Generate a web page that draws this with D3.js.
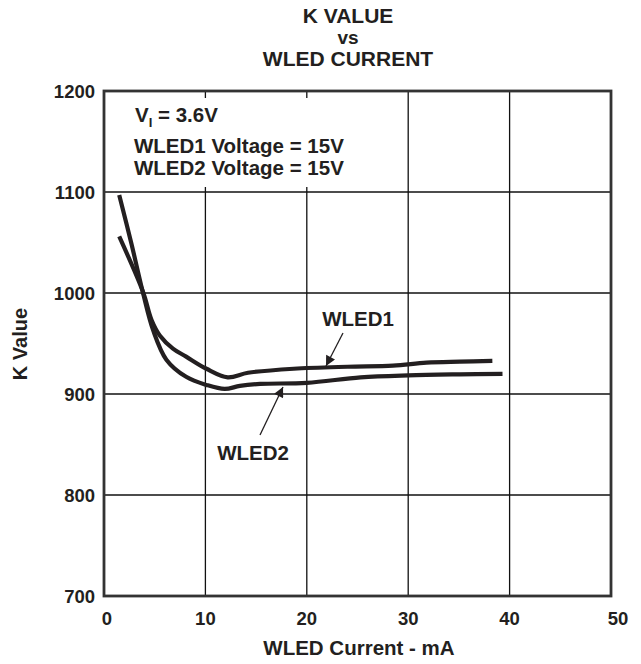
<!DOCTYPE html>
<head>
<meta charset="utf-8">
<script src="https://d3js.org/d3.v7.min.js"></script>
<style>
body { margin:0; background:#fff; }
text { font-family: "Liberation Sans", Arial, sans-serif; font-weight: bold; fill: #231f20; }
</style>
</head>
<body>
<script>
// values
var xTicks = [0, 10, 20, 30, 40, 50];
var yTicks = [700, 800, 900, 1000, 1100, 1200];
var titleLines = ["K VALUE", "vs", "WLED CURRENT"];

var wled1X = [1.5, 3.85, 4.7, 5.5, 6.8, 8.1, 10.1, 12.2, 14.2, 18.7, 24, 28.5, 31.8, 35.1, 38.3];
var wled1Y = [1056, 1001, 973, 958, 945, 937, 925, 916.5, 921, 925, 927, 928, 931, 932, 932.7];
var wled2X = [1.5, 2.7, 3.85, 4.85, 6.15, 8.1, 10.1, 11.9, 13.4, 15.4, 20, 25.3, 30, 35.1, 39.3];
var wled2Y = [1097, 1049, 1000, 963, 934, 917, 909, 905, 908, 910, 911, 916.5, 918.5, 919.5, 920];

var width = 641, height = 664;
var pl = 104, pr = 611, pt = 91, pb = 596;

var svg = d3.select("body").append("svg")
    .attr("width", width)
    .attr("height", height);

var x = d3.scaleLinear().domain([0, 50]).range([pl, pr]);
var y = d3.scaleLinear().domain([700, 1200]).range([pb, pt]);

svg.append("defs").append("marker")
    .attr("id", "head")
    .attr("viewBox", "0 0 10 10")
    .attr("refX", 10).attr("refY", 5)
    .attr("markerWidth", 13).attr("markerHeight", 10)
    .attr("markerUnits", "userSpaceOnUse")
    .attr("orient", "auto")
  .append("path")
    .attr("d", "M0,0L10,5L0,10Z")
    .attr("fill", "#231f20");

// grid
svg.append("g").selectAll("line")
    .data(yTicks.slice(1, -1))
    .enter().append("line")
    .attr("x1", pl).attr("x2", pr)
    .attr("y1", d => y(d)).attr("y2", d => y(d))
    .attr("stroke", "#111").attr("stroke-width", 1.3);

svg.append("g").selectAll("line")
    .data(xTicks.slice(1, -1))
    .enter().append("line")
    .attr("x1", d => x(d)).attr("x2", d => x(d))
    .attr("y1", d => d < 25 ? y(1105) : pt).attr("y2", pb)
    .attr("stroke", "#111").attr("stroke-width", 1.3);

// short ticks at top where the grid is cut for the text
svg.append("g").selectAll("line")
    .data([10, 20])
    .enter().append("line")
    .attr("x1", d => x(d)).attr("x2", d => x(d))
    .attr("y1", pt).attr("y2", pt + 7)
    .attr("stroke", "#111").attr("stroke-width", 1.3);

svg.append("rect")
    .attr("x", pl).attr("y", pt)
    .attr("width", pr - pl).attr("height", pb - pt)
    .attr("fill", "none")
    .attr("stroke", "#333").attr("stroke-width", 2.8);

// tick labels
svg.append("g").selectAll("text")
    .data(yTicks)
    .enter().append("text")
    .attr("x", pl - 9).attr("y", d => y(d) + 7)
    .attr("text-anchor", "end")
    .style("font-size", "18.5px")
    .text(d => d);

svg.append("g").selectAll("text")
    .data(xTicks)
    .enter().append("text")
    .attr("x", d => x(d) + (d === 0 ? 3 : d === 50 ? 7 : 0)).attr("y", pb + 29)
    .attr("text-anchor", "middle")
    .style("font-size", "18.5px")
    .text(d => d);

// titles
var titleY = [23, 44, 66];
svg.append("g").selectAll("text")
    .data(titleLines)
    .enter().append("text")
    .attr("x", 348)
    .attr("y", (d, i) => titleY[i])
    .attr("text-anchor", "middle")
    .style("font-size", (d, i) => i === 1 ? "19px" : "21px")
    .text(d => d);

svg.append("text")
    .attr("x", 359).attr("y", 655)
    .attr("text-anchor", "middle")
    .style("font-size", "20.5px")
    .text("WLED Current - mA");

svg.append("text")
    .attr("transform", "translate(27,344) rotate(-90)")
    .attr("text-anchor", "middle")
    .style("font-size", "20px")
    .text("K Value");

// conditions
var vi = svg.append("text").attr("x", 135).attr("y", 122).style("font-size", "20.5px");
vi.append("tspan").text("V");
vi.append("tspan").attr("dy", 5).style("font-size", "13px").text("I");
vi.append("tspan").attr("dy", -5).text(" = 3.6V");
svg.append("text").attr("x", 134).attr("y", 153).style("font-size", "20.5px").text("WLED1 Voltage = 15V");
svg.append("text").attr("x", 134).attr("y", 174.5).style("font-size", "20.5px").text("WLED2 Voltage = 15V");

// curves
var line = d3.line()
    .x(d => x(d[0])).y(d => y(d[1]))
    .curve(d3.curveCatmullRom.alpha(0.5));

[[wled1X, wled1Y], [wled2X, wled2Y]].forEach(function(s) {
  svg.append("path")
      .datum(d3.zip(s[0], s[1]))
      .attr("d", line)
      .attr("fill", "none")
      .attr("stroke", "#231f20")
      .attr("stroke-width", 4.2);
});

// labels with arrows
svg.append("text").attr("x", 358).attr("y", 326)
    .attr("text-anchor", "middle").style("font-size", "20.5px").text("WLED1");
svg.append("line")
    .attr("x1", 343).attr("y1", 333).attr("x2", 326).attr("y2", 366)
    .attr("stroke", "#231f20").attr("stroke-width", 1.3)
    .attr("marker-end", "url(#head)");

svg.append("text").attr("x", 253).attr("y", 459.5)
    .attr("text-anchor", "middle").style("font-size", "20.5px").text("WLED2");
svg.append("line")
    .attr("x1", 260).attr("y1", 435).attr("x2", 283).attr("y2", 387)
    .attr("stroke", "#231f20").attr("stroke-width", 1.3)
    .attr("marker-end", "url(#head)");
</script>
</body>
